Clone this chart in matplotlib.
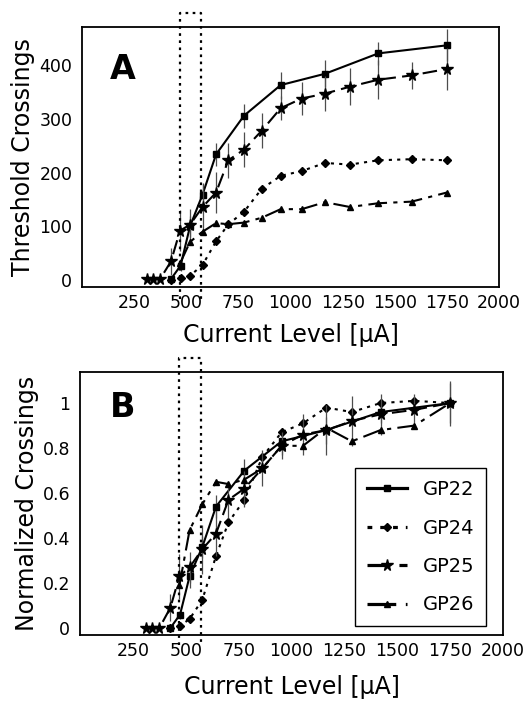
import matplotlib
matplotlib.use("Agg")
import matplotlib.pyplot as plt

plt.rcParams["font.family"] = ["DejaVu Sans"]

# current levels (uA) for each animal
x22 = [427, 473, 518, 578, 643, 777, 953, 1165, 1421, 1750]
x24 = [427, 473, 518, 578, 643, 702, 777, 862, 953, 1054, 1165, 1285, 1421, 1581, 1750]
x25 = [310, 340, 375, 427, 470, 518, 578, 643, 702, 777, 862, 953, 1054, 1165, 1285, 1421, 1581, 1750]
x26 = [470, 518, 578, 643, 702, 777, 862, 953, 1054, 1165, 1285, 1421, 1581, 1750]

# panel A: threshold crossings
a22 = [2, 27, 100, 159, 234, 306, 363, 384, 422, 437]
a22_err = [0, 10, 20, 20, 22, 22, 25, 25, 22, 30]
a24 = [1, 3, 8, 28, 72, 104, 127, 170, 194, 203, 218, 215, 223, 225, 223]
a25 = [2, 2, 2, 35, 92, 103, 136, 163, 223, 243, 278, 320, 338, 347, 360, 373, 381, 393]
a25_err = [0, 0, 0, 25, 38, 29, 45, 39, 33, 32, 33, 22, 31, 32, 34, 36, 25, 39]
a26 = [31, 71, 90, 106, 104, 107, 116, 132, 132, 145, 136, 143, 146, 163]

# panel B: normalized crossings
b22 = [0.0, 0.06, 0.23, 0.36, 0.54, 0.70, 0.83, 0.88, 0.96, 1.0]
b22_err = [0, 0.02, 0.05, 0.05, 0.05, 0.05, 0.06, 0.06, 0.05, 0.09]
b24 = [0.0, 0.01, 0.04, 0.125, 0.32, 0.47, 0.57, 0.76, 0.87, 0.91, 0.98, 0.96, 1.0, 1.01, 1.0]
b25 = [0, 0, 0, 0.09, 0.23, 0.27, 0.35, 0.42, 0.57, 0.62, 0.71, 0.81, 0.86, 0.88, 0.92, 0.95, 0.97, 1.0]
b25_err = [0, 0, 0, 0.06, 0.1, 0.07, 0.11, 0.1, 0.08, 0.08, 0.08, 0.06, 0.09, 0.11, 0.11, 0.09, 0.07, 0.1]
b26 = [0.19, 0.435, 0.55, 0.65, 0.64, 0.66, 0.71, 0.81, 0.81, 0.89, 0.83, 0.88, 0.90, 1.0]

names = ["GP22", "GP24", "GP25", "GP26"]
xticks = [250, 500, 750, 1000, 1250, 1500, 1750, 2000]
box_x = [470, 570]

styles = {
    "GP22": dict(ls="-", marker="s", ms=4.5),
    "GP24": dict(ls=(0, (1.5, 2.5)), marker="D", ms=4.5),
    "GP25": dict(ls=(0, (7, 3)), marker="*", ms=8.5),
    "GP26": dict(ls=(0, (9, 3, 2, 3)), marker="^", ms=5),
}

fig = plt.figure(figsize=(5.24, 7.03), dpi=100)
axA = fig.add_axes([0.1565, 0.5917, 0.7958, 0.3698])
axB = fig.add_axes([0.1527, 0.0967, 0.8073, 0.3741])


def draw(ax, xs, ys, errs):
    lines = []
    for name, x, y, e in zip(names, xs, ys, errs):
        if e is not None:
            ax.errorbar(x, y, yerr=e, fmt="none", ecolor="0.3", elinewidth=0.9, capsize=0)
        ln, = ax.plot(x, y, color="black", lw=1.5, label=name, **styles[name])
        lines.append(ln)
    return lines


draw(axA, [x22, x24, x25, x26], [a22, a24, a25, a26], [a22_err, None, a25_err, None])
handles = draw(axB, [x22, x24, x25, x26], [b22, b24, b25, b26], [b22_err, None, b25_err, None])

# dotted window around threshold
for ax, lo, hi in [(axA, -35, 497), (axB, -0.075, 1.2)]:
    ax.plot([box_x[0], box_x[0], box_x[1], box_x[1]], [lo, hi, hi, lo],
            color="black", ls=(0, (1.2, 2)), lw=1.6, clip_on=False)

axA.set_xlim(0, 2000)
axA.set_ylim(-13, 471)
axA.set_yticks([0, 100, 200, 300, 400])
axB.set_xlim(0, 2000)
axB.set_ylim(-0.031, 1.138)
axB.set_yticks([0, 0.2, 0.4, 0.6, 0.8, 1.0])
axB.set_yticklabels(["0", "0.2", "0.4", "0.6", "0.8", "1"])

for ax in (axA, axB):
    ax.set_xticks(xticks)
    ax.tick_params(length=0, labelsize=12.5)
    ax.tick_params(axis="y", pad=7)
    ax.tick_params(axis="x", pad=5)
    for sp in ax.spines.values():
        sp.set_linewidth(1.3)

axA.set_xlabel("Current Level [µA]", fontsize=17, labelpad=8)
axB.set_xlabel("Current Level [µA]", fontsize=17, labelpad=11)
axA.set_ylabel("Threshold Crossings", fontsize=17, labelpad=3)
axB.set_ylabel("Normalized Crossings", fontsize=17, labelpad=3)

axA.text(0.067, 0.835, "A", transform=axA.transAxes, fontsize=24, fontweight="bold", va="center")
axB.text(0.071, 0.867, "B", transform=axB.transAxes, fontsize=24, fontweight="bold", va="center")

leg = axB.legend(handles=handles, loc="lower left", bbox_to_anchor=(0.65, 0.034),
                 fontsize=14, numpoints=1, handlelength=2.1, handletextpad=0.8,
                 labelspacing=1.0, borderpad=0.6, fancybox=False, framealpha=1,
                 edgecolor="black", borderaxespad=0)
leg.get_frame().set_linewidth(1.0)
for ln in leg.get_lines():
    ln.set_linewidth(2.3)

fig.savefig("out.png", dpi=100)
